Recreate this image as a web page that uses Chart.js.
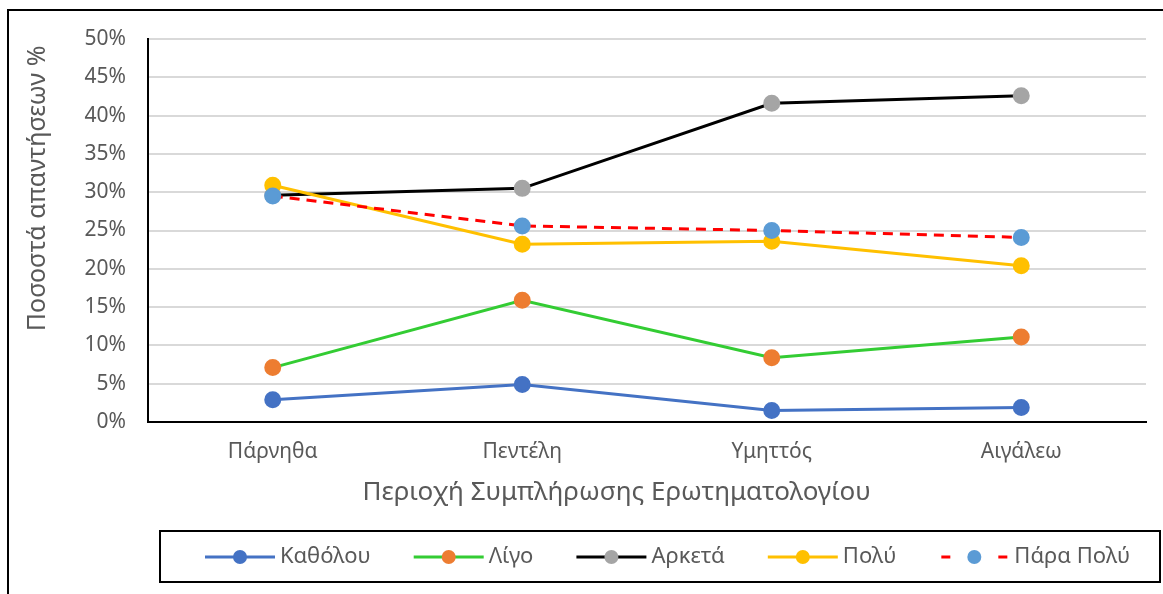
<!DOCTYPE html>
<html>
<head>
<meta charset="utf-8">
<script src="https://cdn.jsdelivr.net/npm/chart.js@4"></script>
<style>
    html, body { margin: 0; padding: 0; background: #ffffff; overflow: hidden; }
    #frame { position: absolute; left: 7px; top: 9px; width: 1300px; height: 700px; border: 2px solid #000; }
    #wrap { position: absolute; left: 0; top: 0; width: 1163px; height: 594px; }
</style>
</head>
<body>
<div id="frame"></div>
<div id="wrap"><canvas id="chart" width="1163" height="594"></canvas></div>
<script>
const regions = ["Πάρνηθα", "Πεντέλη", "Υμηττός", "Αιγάλεω"];
const yTicks = [0, 5, 10, 15, 20, 25, 30, 35, 40, 45, 50];

const kathólou = [2.9, 4.9, 1.5, 1.9];
const lígo = [7.1, 15.9, 8.4, 11.1];
const arketá = [29.6, 30.5, 41.6, 42.6];
const polý = [30.9, 23.2, 23.6, 20.4];
const páraPolý = [29.5, 25.6, 25.0, 24.1];

const textColor = "#595959";
const fontFamily = "'Noto Sans', 'DejaVu Sans', sans-serif";

function series(label, data, lineColor, pointColor, order, dash) {
    return {
        label: label,
        data: data,
        borderColor: lineColor,
        backgroundColor: pointColor,
        pointBackgroundColor: pointColor,
        pointBorderColor: pointColor,
        pointRadius: 7,
        pointHoverRadius: 7,
        borderWidth: 3,
        borderDash: dash || [],
        tension: 0,
        order: order
    };
}

// legend in a boxed frame, like the Excel one
const boxLegend = {
    id: "boxLegend",
    afterDraw(chart) {
        const ctx = chart.ctx;
        ctx.save();
        ctx.strokeStyle = "#000";
        ctx.lineWidth = 2;
        ctx.setLineDash([]);
        ctx.strokeRect(160, 531, 1000, 51);

        ctx.font = "22px " + fontFamily;
        ctx.textBaseline = "middle";
        ctx.textAlign = "left";

        let x = 205;
        const y = 557;
        chart.data.datasets.forEach(ds => {
            ctx.beginPath();
            ctx.lineWidth = 3;
            ctx.strokeStyle = ds.borderColor;
            if (ds.borderDash.length) {
                ctx.setLineDash([9, 48]);
                ctx.lineDashOffset = -2;
            } else {
                ctx.setLineDash([]);
            }
            ctx.moveTo(x, y);
            ctx.lineTo(x + 70, y);
            ctx.stroke();
            ctx.setLineDash([]);

            ctx.beginPath();
            ctx.fillStyle = ds.pointBackgroundColor;
            ctx.arc(x + 35, y, 7, 0, Math.PI * 2);
            ctx.fill();

            ctx.fillStyle = textColor;
            ctx.fillText(ds.label, x + 75, y);
            x += 75 + ctx.measureText(ds.label).width + 43;
        });
        ctx.restore();
    }
};

new Chart(document.getElementById("chart"), {
    type: "line",
    data: {
        labels: regions,
        datasets: [
            series("Καθόλου", kathólou, "#4472C4", "#4472C4", 5),
            series("Λίγο", lígo, "#33CC33", "#ED7D31", 4),
            series("Αρκετά", arketá, "#000000", "#A5A5A5", 3),
            series("Πολύ", polý, "#FFC000", "#FFC000", 2),
            series("Πάρα Πολύ", páraPolý, "#FF0000", "#5B9BD5", 1, [10, 7])
        ]
    },
    options: {
        responsive: false,
        animation: false,
        layout: { padding: { top: 39, right: 17, bottom: 82, left: 0 } },
        plugins: {
            legend: { display: false },
            tooltip: { enabled: false }
        },
        scales: {
            x: {
                offset: true,
                grid: { display: false, drawTicks: false },
                border: { display: true, color: "#000", width: 2 },
                ticks: { color: textColor, font: { family: fontFamily, size: 21 }, padding: 17 },
                title: {
                    display: true,
                    text: "Περιοχή Συμπλήρωσης Ερωτηματολογίου" + "\u00a0".repeat(9),
                    color: textColor,
                    font: { family: fontFamily, size: 26 },
                    padding: { top: 0, bottom: 4 }
                },
                afterFit(scale) { scale.height = 90; }
            },
            y: {
                min: yTicks[0],
                max: yTicks[yTicks.length - 1],
                afterBuildTicks(scale) { scale.ticks = yTicks.map(v => ({ value: v })); },
                grid: { color: "#d9d9d9", lineWidth: 2, drawTicks: false },
                border: { display: true, color: "#000", width: 2 },
                ticks: {
                    color: textColor,
                    font: { family: fontFamily, size: 21 },
                    padding: 22,
                    callback: v => v + "%"
                },
                title: {
                    display: true,
                    text: "Ποσοστά απαντήσεων % ",
                    align: "end",
                    color: textColor,
                    font: { family: fontFamily, size: 25 },
                    padding: { top: 23, bottom: 0 }
                },
                afterFit(scale) { scale.width = 148; }
            }
        }
    },
    plugins: [boxLegend]
});
</script>
</body>
</html>
